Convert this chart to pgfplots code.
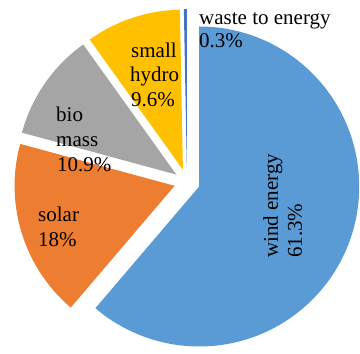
\documentclass[border=0pt]{standalone}
\usepackage{pgfplots}
\usepackage{pgfplotstable}
\pgfplotsset{compat=1.18}
\usepackage{fontspec}
\setmainfont{Liberation Serif}

\definecolor{windc}{HTML}{5B9BD5}
\definecolor{solarc}{HTML}{ED7D31}
\definecolor{bioc}{HTML}{A5A5A5}
\definecolor{hydroc}{HTML}{FFC000}
\definecolor{wastec}{HTML}{4472C4}

% share of each source (percent), clockwise from 12 o'clock
\pgfplotstableread{
source value colour
wind   61.3  windc
solar  18.0  solarc
bio    10.9  bioc
hydro   9.6  hydroc
waste   0.3  wastec
}\energymix

% pie geometry in axis units (1 unit = 1pt)
\def\cx{187}
\def\cy{172}
\def\R{160}
\def\gap{13}

% total of all shares
\def\total{0}
\pgfplotsforeachungrouped \i in {0,...,4}{%
  \pgfplotstablegetelem{\i}{value}\of\energymix
  \pgfmathsetmacro\total{\total+\pgfplotsretval}%
}

% start/end angle and exploded apex of every slice
\def\acc{90}
\pgfplotsforeachungrouped \i in {0,...,4}{%
  \pgfplotstablegetelem{\i}{value}\of\energymix
  \pgfmathsetmacro\aend{\acc-\pgfplotsretval/\total*360}%
  \pgfmathsetmacro\amid{(\acc+\aend)/2}%
  \pgfmathsetmacro\apx{\cx+\gap*cos(\amid)}%
  \pgfmathsetmacro\apy{\cy+\gap*sin(\amid)}%
  \pgfplotstablegetelem{\i}{colour}\of\energymix
  \colorlet{slice\i}{\pgfplotsretval}%
  \expandafter\xdef\csname slA\i\endcsname{\acc}%
  \expandafter\xdef\csname slB\i\endcsname{\aend}%
  \expandafter\xdef\csname slX\i\endcsname{\apx}%
  \expandafter\xdef\csname slY\i\endcsname{\apy}%
  \let\acc\aend
}

\newcommand\lab{\fontsize{21}{24}\selectfont}

\begin{document}
\begin{tikzpicture}
\begin{axis}[
  x=1pt, y=1pt,
  xmin=0, xmax=360, ymin=0, ymax=354,
  hide axis, clip=false,
]
\path (axis cs:0,0) rectangle (axis cs:360,354);

\pgfplotsinvokeforeach{0,...,4}{%
  \fill[slice#1]
    (axis cs:\csname slX#1\endcsname,\csname slY#1\endcsname)
    -- ++(\csname slA#1\endcsname:\R pt)
    arc[start angle=\csname slA#1\endcsname,
        end angle=\csname slB#1\endcsname, radius=\R pt]
    -- cycle;
}

\begin{scope}[every node/.style={anchor=base west, inner sep=0pt, font=\lab}]
  \node at (axis cs:199,329) {waste to energy};
  \node at (axis cs:199,306) {0.3\%};
  \node at (axis cs:131,296) {small};
  \node at (axis cs:130,272) {hydro};
  \node at (axis cs:131,247) {9.6\%};
  \node at (axis cs:56,232) {bio};
  \node at (axis cs:56,207) {mass};
  \node at (axis cs:57,182) {10.9\%};
  \node at (axis cs:38,132) {solar};
  \node at (axis cs:38,107) {18\%};
  \node[rotate=90] at (axis cs:278,96) {wind energy};
  \node[rotate=90] at (axis cs:302,96) {61.3\%};
\end{scope}
\end{axis}
\end{tikzpicture}
\end{document}
